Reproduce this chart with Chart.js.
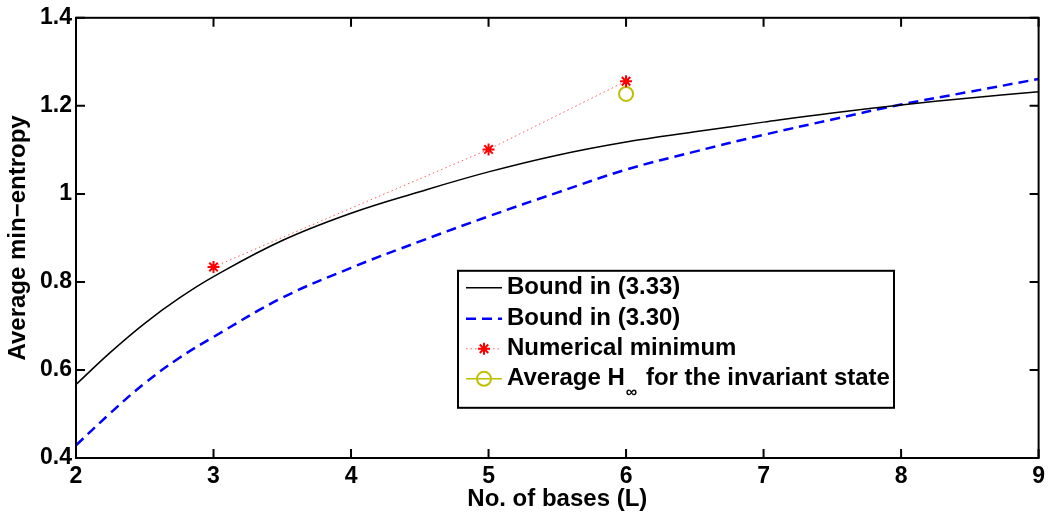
<!DOCTYPE html>
<html>
<head>
<meta charset="utf-8">
<script src="https://cdn.jsdelivr.net/npm/chart.js@4"></script>
<style>
  html, body { margin: 0; padding: 0; background: #fff; }
  #wrap { width: 1050px; height: 516px; }
</style>
</head>
<body>
<div id="wrap"><canvas id="entropyChart" width="1050" height="516"></canvas></div>
<script>
// values
var bases = [2, 2.25, 2.5, 2.75, 3, 3.5, 4, 4.5, 5, 5.5, 6, 6.5, 7, 7.5, 8, 8.5, 9];
var bound333 = [0.567, 0.640, 0.706, 0.763, 0.812, 0.894, 0.956, 1.005, 1.050, 1.088, 1.118, 1.141, 1.163, 1.184, 1.202, 1.218, 1.232];
var bound330 = [0.429, 0.502, 0.570, 0.627, 0.675, 0.764, 0.832, 0.892, 0.949, 1.003, 1.055, 1.096, 1.134, 1.169, 1.203, 1.232, 1.261];
var numBases = [3, 5, 6];
var numMinimum = [0.834, 1.101, 1.256];
var invBases = [6];
var invState = [1.227];
var xTickLabels = ['2', '3', '4', '5', '6', '7', '8', '9'];
var yTickLabels = ['0.4', '0.6', '0.8', '1', '1.2', '1.4'];
var seriesNames = ['Bound in (3.33)', 'Bound in (3.30)', 'Numerical minimum', 'Average H\u221e for the invariant state'];

function pairs(xs, ys) {
    return xs.map(function (x, i) { return { x: x, y: ys[i] }; });
}

var FONT = 'Liberation Sans, Arial, Helvetica, sans-serif';

// MATLAB style box with inward ticks, and the legend inside the axes
var matlabBox = {
    id: 'matlabBox',
    afterDraw: function (chart) {
        var ctx = chart.ctx;
        var a = chart.chartArea;
        var xs = chart.scales.x, ys = chart.scales.y;
        ctx.save();
        ctx.strokeStyle = '#000';
        ctx.lineWidth = 2;
        ctx.setLineDash([]);
        ctx.strokeRect(a.left, a.top, a.right - a.left, a.bottom - a.top);
        var tl = 9;
        ctx.beginPath();
        xs.ticks.forEach(function (t) {
            var px = xs.getPixelForValue(t.value);
            ctx.moveTo(px, a.bottom); ctx.lineTo(px, a.bottom - tl);
            ctx.moveTo(px, a.top); ctx.lineTo(px, a.top + tl);
        });
        ys.ticks.forEach(function (t) {
            var py = ys.getPixelForValue(t.value);
            ctx.moveTo(a.left, py); ctx.lineTo(a.left + tl, py);
            ctx.moveTo(a.right, py); ctx.lineTo(a.right - tl, py);
        });
        ctx.stroke();

        // legend
        var bx = a.left + 382, by = a.top + 253, bw = 436, bh = 137;
        ctx.fillStyle = '#fff';
        ctx.fillRect(bx, by, bw, bh);
        ctx.lineWidth = 2;
        ctx.strokeRect(bx, by, bw, bh);
        var rowY = [by + 17, by + 48, by + 78, by + 108];
        chart.data.datasets.forEach(function (ds, i) {
            var y = rowY[i];
            var x0 = bx + 8, x1 = bx + 44, xm = (x0 + x1) / 2;
            ctx.save();
            if (ds.showLine !== false) {
                ctx.strokeStyle = ds.borderColor;
                ctx.lineWidth = ds.borderWidth;
                ctx.setLineDash(ds.borderDash || []);
                ctx.beginPath(); ctx.moveTo(x0, y); ctx.lineTo(x1, y); ctx.stroke();
            }
            ctx.setLineDash([]);
            if (ds.pointRadius > 0) {
                ctx.strokeStyle = ds.pointBorderColor;
                ctx.fillStyle = 'rgba(0,0,0,0)';
                ctx.lineWidth = ds.pointBorderWidth;
                Chart.helpers.drawPoint(ctx, { pointStyle: ds.pointStyle, radius: ds.pointRadius, borderWidth: ds.pointBorderWidth, rotation: 0 }, xm, y);
            }
            ctx.restore();
            ctx.fillStyle = '#000';
            ctx.textBaseline = 'middle';
            ctx.font = 'bold 24px ' + FONT;
            var tx = bx + 49;
            var parts = ds.label.split('\u221e');
            ctx.fillText(parts[0], tx, y);
            if (parts.length > 1) {
                var w = ctx.measureText(parts[0]).width;
                ctx.font = 'bold 16px ' + FONT;
                ctx.fillText('\u221e', tx + w + 1, y + 14);
                var ws = ctx.measureText('\u221e').width;
                ctx.font = 'bold 24px ' + FONT;
                ctx.fillText(parts[1], tx + w + ws + 3, y);
            }
        });
        ctx.restore();
    }
};

var ctx = document.getElementById('entropyChart').getContext('2d');
var entropyChart = new Chart(ctx, {
    type: 'line',
    data: {
        datasets: [
            {
                label: seriesNames[0],
                data: pairs(bases, bound333),
                borderColor: '#000',
                borderWidth: 1.5,
                pointRadius: 0,
                tension: 0.4,
                fill: false
            },
            {
                label: seriesNames[1],
                data: pairs(bases, bound330),
                borderColor: '#0000ff',
                borderWidth: 2.5,
                borderDash: [10, 6],
                pointRadius: 0,
                tension: 0.4,
                fill: false
            },
            {
                label: seriesNames[2],
                data: pairs(numBases, numMinimum),
                borderColor: 'rgba(255,0,0,0.65)',
                borderWidth: 1,
                borderDash: [1.5, 3],
                pointStyle: 'star',
                pointRadius: 6,
                pointBorderColor: '#ff0000',
                pointBorderWidth: 2,
                fill: false
            },
            {
                label: seriesNames[3],
                data: pairs(invBases, invState),
                borderColor: '#bfbf00',
                borderWidth: 1.5,
                pointStyle: 'circle',
                pointRadius: 7,
                pointBorderColor: '#bfbf00',
                pointBackgroundColor: 'rgba(0,0,0,0)',
                pointBorderWidth: 2,
                fill: false
            }
        ]
    },
    options: {
        responsive: false,
        animation: false,
        layout: { padding: { left: 0, top: 15, right: 9, bottom: 0 } },
        plugins: {
            legend: { display: false },
            tooltip: { enabled: false }
        },
        scales: {
            x: {
                type: 'linear',
                min: 2,
                max: 9,
                grid: { display: false, drawTicks: false },
                border: { display: false },
                ticks: {
                    stepSize: 1,
                    padding: 5,
                    color: '#000',
                    font: { family: FONT, size: 23, weight: 'bold' },
                    callback: function (v, i) { return xTickLabels[i]; }
                },
                title: {
                    display: true,
                    text: 'No. of bases (L)',
                    color: '#000',
                    font: { family: FONT, size: 24, weight: 'bold' },
                    padding: { top: 0, bottom: 2 }
                },
                afterFit: function (s) { s.height = 58; }
            },
            y: {
                min: 0.4,
                max: 1.4,
                grid: { display: false, drawTicks: false },
                border: { display: false },
                ticks: {
                    stepSize: 0.2,
                    padding: 4,
                    color: '#000',
                    font: { family: FONT, size: 23, weight: 'bold' },
                    callback: function (v, i) { return yTickLabels[i]; }
                },
                title: {
                    display: true,
                    text: 'Average min\u2212entropy',
                    color: '#000',
                    font: { family: FONT, size: 24, weight: 'bold' },
                    padding: { top: 4, bottom: 0 }
                },
                afterFit: function (s) { s.width = 76; }
            }
        }
    },
    plugins: [matlabBox]
});
</script>
</body>
</html>
